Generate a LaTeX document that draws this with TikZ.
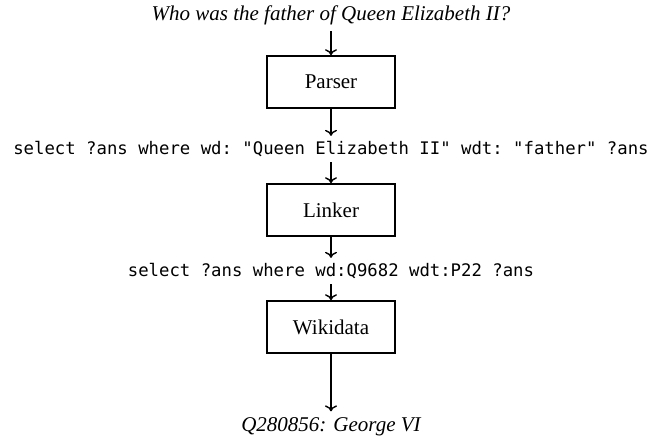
\documentclass[tikz,border=0pt]{standalone}
\usepackage{fontspec}
\usetikzlibrary{arrows.meta}
\setmainfont{Liberation Serif}
\setmonofont{DejaVu Sans Mono}
\begin{document}
\begin{tikzpicture}[x=0.5pt,y=-0.5pt,
  stagebox/.style={draw, line width=0.8pt, minimum width=64pt, minimum height=26pt, inner sep=0pt, font=\fontsize{10.5}{12}\selectfont},
  qtext/.style={inner xsep=2pt, inner ysep=3pt, font=\fontsize{10.5}{12}\selectfont\itshape},
  codetext/.style={inner xsep=2pt, inner ysep=2.5pt, font=\fontsize{8.65}{10}\ttfamily},
  flow/.style={-{To[length=3pt,width=6pt]}, line width=0.7pt}]
\useasboundingbox (0,0) rectangle (660,440);
\node[qtext] (q) at (331,15) {Who was the father of Queen Elizabeth II?};
\node[stagebox] (parser) at (331,82) {Parser};
\node[codetext] (s1) at (331,149) {select ?ans where wd: "Queen Elizabeth II" wdt: "father" ?ans};
\node[stagebox] (linker) at (331,210) {Linker};
\node[codetext] (s2) at (331,271) {select ?ans where wd:Q9682 wdt:P22 ?ans};
\node[stagebox] (wiki) at (331,327) {Wikidata};
\node[qtext] (ans) at (331,427) {Q280856: George VI};
\draw[flow] (q) -- (parser);
\draw[flow] (parser) -- (s1);
\draw[flow] (s1) -- (linker);
\draw[flow] (linker) -- (s2);
\draw[flow] (s2) -- (wiki);
\draw[flow] (wiki) -- (ans);
\end{tikzpicture}
\end{document}
